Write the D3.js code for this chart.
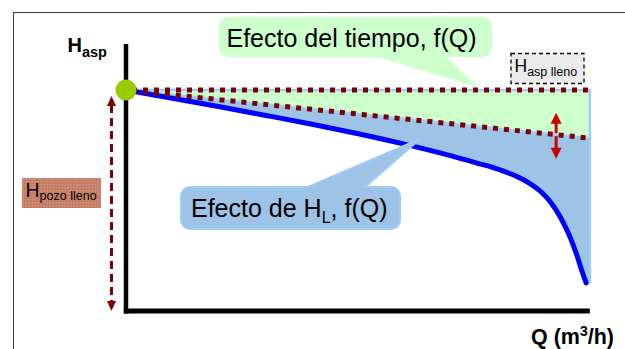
<!DOCTYPE html>
<html>
<head>
<meta charset="utf-8">
<script src="https://cdn.jsdelivr.net/npm/d3@7"></script>
<style>
  html, body { margin: 0; padding: 0; background: #fff; }
  svg { display: block; font-family: "Liberation Sans", Arial, sans-serif; }
</style>
</head>
<body>
<svg id="chart" width="625" height="349"></svg>
<script>
// Caudal (Q, % del máximo) y altura de aspiración (H, % de H_asp lleno)
const caudal      = [0, 10, 20, 30, 40, 50, 60, 70, 76, 80, 84, 87, 90, 92, 94, 96, 97.5, 98.7, 99.6];
const hCurva      = [100, 96.3, 92.5, 88.6, 84.6, 80.3, 75.6, 70.4, 66.9, 64.5, 61.4, 58.2, 53.6, 49.0, 42.5, 34.0, 25.8, 18.0, 12.7];
// Efecto del tiempo: nivel lleno y nivel descendido (recta)
const qRecta      = [0, 100];
const hLleno      = [100, 100];
const hDescenso   = [100, 78.3];
const qBorde      = 100.4;
const etiquetas   = {
  titulo: "Efecto del tiempo, f(Q)",
  perdidas: ["Efecto de H", "L", ", f(Q)"],
  ejeY: ["H", "asp"],
  ejeX: ["Q (m", "3", "/h)"],
  aspLleno: ["H", "asp lleno"],
  pozoLleno: ["H", "pozo lleno"]
};

const svg = d3.select("#chart");
const x = d3.scaleLinear().domain([0, 100]).range([126, 588]);
const y = d3.scaleLinear().domain([0, 100]).range([311, 90]);

const recta = (arr) => qRecta.map((q, i) => [q, arr[i]]);
const lleno = recta(hLleno);
const descenso = recta(hDescenso);
const curva = caudal.map((q, i) => [q, hCurva[i]]);
const hDesc = (q) => d3.scaleLinear().domain(qRecta).range(hDescenso)(q);

// marco exterior
svg.append("rect").attr("x", 13.5).attr("y", 12.5).attr("width", 700).attr("height", 400)
  .attr("fill", "none").attr("stroke", "#3a3a3a").attr("stroke-width", 1);

const lin = d3.line().x(d => x(d[0])).y(d => y(d[1]));
const suave = d3.line().x(d => x(d[0])).y(d => y(d[1])).curve(d3.curveMonotoneX);

// zona verde: entre nivel lleno y nivel descendido
const verde = [[0, 100], [qBorde, 100], [qBorde, hDesc(qBorde)], [0, 100]];
svg.append("path").attr("d", lin(verde)).attr("fill", "#ccffcc");

// zona azul: entre la recta de descenso y la curva
const azulPath = lin([[0, 100], [qBorde, hDesc(qBorde)], [qBorde, hCurva[hCurva.length - 1]]])
  + "L" + suave(curva.slice().reverse()).slice(1);
svg.append("path").attr("d", azulPath).attr("fill", "#9dc3e6");

// contorno azul claro de la zona
svg.append("path")
  .attr("d", lin([[0, 100], [qBorde, 100], [qBorde, hCurva[hCurva.length - 1]]]))
  .attr("fill", "none").attr("stroke", "#99ccff").attr("stroke-width", 2.5);
svg.append("path").attr("d", lin(descenso))
  .attr("fill", "none").attr("stroke", "#99ccff").attr("stroke-width", 2.5);

// curva de pérdidas
svg.append("path").attr("d", suave(curva))
  .attr("fill", "none").attr("stroke", "#0000ff").attr("stroke-width", 5)
  .attr("stroke-linecap", "round");

// líneas punteadas
[lleno, descenso].forEach(d => {
  svg.append("path").attr("d", lin(d))
    .attr("fill", "none").attr("stroke", "#800000").attr("stroke-width", 5)
    .attr("stroke-dasharray", "5,6").attr("stroke-dashoffset", -6);
});

// ejes
svg.append("line").attr("x1", x(0)).attr("x2", x(0)).attr("y1", 44).attr("y2", y(0) + 2.5)
  .attr("stroke", "#000").attr("stroke-width", 4.5);
svg.append("line").attr("x1", x(0) - 2.2).attr("x2", x(100.4)).attr("y1", y(0)).attr("y2", y(0))
  .attr("stroke", "#000").attr("stroke-width", 5);

// punto de partida
svg.append("circle").attr("cx", x(0)).attr("cy", y(100)).attr("r", 10.5).attr("fill", "#99cc00");

// flecha discontinua H_pozo lleno
const xa = 111.5;
svg.append("line").attr("x1", xa).attr("x2", xa).attr("y1", y(100) + 15).attr("y2", y(0) - 8)
  .attr("stroke", "#800000").attr("stroke-width", 3).attr("stroke-dasharray", "8,5");
svg.append("path").attr("d", `M${xa},${y(100) + 6}L${xa - 4.5},${y(100) + 16}L${xa + 4.5},${y(100) + 16}Z`).attr("fill", "#800000");
svg.append("path").attr("d", `M${xa},${y(0)}L${xa - 4.5},${y(0) - 10}L${xa + 4.5},${y(0) - 10}Z`).attr("fill", "#800000");

// flecha doble roja sobre la recta de descenso
const qf = 93.1, xf = x(qf), yf = y(hDesc(qf));
svg.append("line").attr("x1", xf).attr("x2", xf).attr("y1", yf - 1.5).attr("y2", yf - 13)
  .attr("stroke", "#cc0000").attr("stroke-width", 3);
svg.append("path").attr("d", `M${xf},${yf - 22}L${xf - 5.5},${yf - 11}L${xf + 5.5},${yf - 11}Z`).attr("fill", "#cc0000");
svg.append("line").attr("x1", xf).attr("x2", xf).attr("y1", yf + 1.5).attr("y2", yf + 14)
  .attr("stroke", "#cc0000").attr("stroke-width", 3);
svg.append("path").attr("d", `M${xf},${yf + 24}L${xf - 5.5},${yf + 13}L${xf + 5.5},${yf + 13}Z`).attr("fill", "#cc0000");

// bocadillos (rectángulo redondeado con pico)
function bocadillo(x0, y0, x1, y1, r, base, punta, abajo) {
  const p = d3.path();
  p.moveTo(x0 + r, y0);
  if (!abajo) { p.lineTo(base[0], y0); p.lineTo(punta[0], punta[1]); p.lineTo(base[1], y0); }
  p.lineTo(x1 - r, y0); p.arcTo(x1, y0, x1, y0 + r, r);
  p.lineTo(x1, y1 - r); p.arcTo(x1, y1, x1 - r, y1, r);
  if (abajo) { p.lineTo(base[1], y1); p.lineTo(punta[0], punta[1]); p.lineTo(base[0], y1); }
  p.lineTo(x0 + r, y1); p.arcTo(x0, y1, x0, y1 - r, r);
  p.lineTo(x0, y0 + r); p.arcTo(x0, y0, x0 + r, y0, r);
  p.closePath();
  return p.toString();
}
svg.append("path")
  .attr("d", bocadillo(219, 17, 492, 57, 9, [378, 447], [477, 87], true))
  .attr("fill", "#ccffcc");
svg.append("text").attr("x", 226.5).attr("y", 47).attr("font-size", 25).attr("fill", "#000")
  .text(etiquetas.titulo);

svg.append("path")
  .attr("d", bocadillo(181, 187, 400, 229, 9, [308, 365], [420, 139], false))
  .attr("fill", "#9dc3e6").attr("stroke", "#9ecbf7").attr("stroke-width", 2);
const tp = svg.append("text").attr("x", 191).attr("y", 217).attr("font-size", 25).attr("fill", "#000");
tp.append("tspan").text(etiquetas.perdidas[0]);
tp.append("tspan").attr("font-size", 16).attr("dy", 6).text(etiquetas.perdidas[1]);
tp.append("tspan").attr("dy", -6).text(etiquetas.perdidas[2]);

// título eje Y
const ty = svg.append("text").attr("x", 67.5).attr("y", 51.5).attr("font-size", 20).attr("font-weight", "bold");
ty.append("tspan").text(etiquetas.ejeY[0]);
ty.append("tspan").attr("font-size", 14.5).attr("dy", 5).text(etiquetas.ejeY[1]);

// título eje X
const tx = svg.append("text").attr("x", 614).attr("y", 344).attr("font-size", 21.5).attr("font-weight", "bold")
  .attr("text-anchor", "end");
tx.append("tspan").text(etiquetas.ejeX[0]);
tx.append("tspan").attr("font-size", 14).attr("dy", -8).text(etiquetas.ejeX[1]);
tx.append("tspan").attr("dy", 8).text(etiquetas.ejeX[2]);

// H_asp lleno
svg.append("rect").attr("x", 511).attr("y", 53.5).attr("width", 73).attr("height", 30)
  .attr("fill", "#ebebeb").attr("stroke", "#000").attr("stroke-width", 1.3).attr("stroke-dasharray", "4,3");
const ta = svg.append("text").attr("x", 514.5).attr("y", 71.5).attr("font-size", 17.5);
ta.append("tspan").text(etiquetas.aspLleno[0]);
ta.append("tspan").attr("font-size", 12.5).attr("dy", 4.5).text(etiquetas.aspLleno[1]);

// H_pozo lleno
const pat = svg.append("defs").append("pattern").attr("id", "tex")
  .attr("width", 3).attr("height", 3).attr("patternUnits", "userSpaceOnUse");
pat.append("rect").attr("width", 3).attr("height", 3).attr("fill", "#c8836a");
pat.append("rect").attr("width", 1).attr("height", 1).attr("fill", "#b9735a");
pat.append("rect").attr("x", 2).attr("y", 1).attr("width", 1).attr("height", 1).attr("fill", "#d49478");
svg.append("rect").attr("x", 22).attr("y", 178).attr("width", 79).attr("height", 30).attr("fill", "url(#tex)");
const tz = svg.append("text").attr("x", 25.5).attr("y", 197.3).attr("font-size", 19.5);
tz.append("tspan").text(etiquetas.pozoLleno[0]);
tz.append("tspan").attr("font-size", 12.5).attr("dy", 3).text(etiquetas.pozoLleno[1]);
</script>
</body>
</html>
